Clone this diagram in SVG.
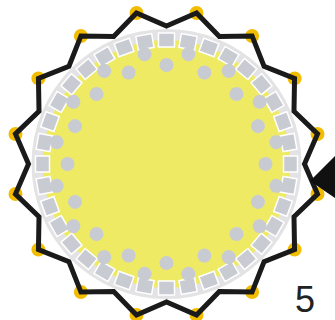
<svg xmlns="http://www.w3.org/2000/svg" xmlns:xlink="http://www.w3.org/1999/xlink" width="335" height="320" viewBox="0 0 335 320">
<style>
.sq{fill:#C9CBD3;stroke:#ffffff;stroke-width:1.5}
.gd{fill:#C9CBD3}
.yd{fill:#F2BD00}
.star{fill:none;stroke:#1a1a1a;stroke-width:5;stroke-linejoin:miter}
</style>
<defs>
<rect id="s" class="sq" x="-8" y="-131" width="16" height="14"/>
<circle id="di" class="gd" cx="0" cy="-99" r="7"/>
<circle id="do" class="gd" cx="0" cy="-112" r="7"/>
</defs>
<rect width="335" height="320" fill="#ffffff"/>
<g id="disc" transform="translate(166.5,164)">
<circle r="135" fill="#E3E3E5"/>
<circle r="124" fill="#EEEA64"/>
<g id="squares">
<use xlink:href="#s" transform="rotate(0)"/><use xlink:href="#s" transform="rotate(10)"/><use xlink:href="#s" transform="rotate(20)"/><use xlink:href="#s" transform="rotate(30)"/><use xlink:href="#s" transform="rotate(40)"/><use xlink:href="#s" transform="rotate(50)"/><use xlink:href="#s" transform="rotate(60)"/><use xlink:href="#s" transform="rotate(70)"/><use xlink:href="#s" transform="rotate(80)"/>
<use xlink:href="#s" transform="rotate(90)"/><use xlink:href="#s" transform="rotate(100)"/><use xlink:href="#s" transform="rotate(110)"/><use xlink:href="#s" transform="rotate(120)"/><use xlink:href="#s" transform="rotate(130)"/><use xlink:href="#s" transform="rotate(140)"/><use xlink:href="#s" transform="rotate(150)"/><use xlink:href="#s" transform="rotate(160)"/><use xlink:href="#s" transform="rotate(170)"/>
<use xlink:href="#s" transform="rotate(180)"/><use xlink:href="#s" transform="rotate(190)"/><use xlink:href="#s" transform="rotate(200)"/><use xlink:href="#s" transform="rotate(210)"/><use xlink:href="#s" transform="rotate(220)"/><use xlink:href="#s" transform="rotate(230)"/><use xlink:href="#s" transform="rotate(240)"/><use xlink:href="#s" transform="rotate(250)"/><use xlink:href="#s" transform="rotate(260)"/>
<use xlink:href="#s" transform="rotate(270)"/><use xlink:href="#s" transform="rotate(280)"/><use xlink:href="#s" transform="rotate(290)"/><use xlink:href="#s" transform="rotate(300)"/><use xlink:href="#s" transform="rotate(310)"/><use xlink:href="#s" transform="rotate(320)"/><use xlink:href="#s" transform="rotate(330)"/><use xlink:href="#s" transform="rotate(340)"/><use xlink:href="#s" transform="rotate(350)"/>
</g>
<g id="dots">
<use xlink:href="#di" transform="rotate(0)"/><use xlink:href="#di" transform="rotate(22.5)"/><use xlink:href="#di" transform="rotate(45)"/><use xlink:href="#di" transform="rotate(67.5)"/><use xlink:href="#di" transform="rotate(90)"/><use xlink:href="#di" transform="rotate(112.5)"/><use xlink:href="#di" transform="rotate(135)"/><use xlink:href="#di" transform="rotate(157.5)"/><use xlink:href="#di" transform="rotate(180)"/><use xlink:href="#di" transform="rotate(202.5)"/><use xlink:href="#di" transform="rotate(225)"/><use xlink:href="#di" transform="rotate(247.5)"/><use xlink:href="#di" transform="rotate(270)"/><use xlink:href="#di" transform="rotate(292.5)"/><use xlink:href="#di" transform="rotate(315)"/><use xlink:href="#di" transform="rotate(337.5)"/>
<use xlink:href="#do" transform="rotate(11.25)"/><use xlink:href="#do" transform="rotate(33.75)"/><use xlink:href="#do" transform="rotate(56.25)"/><use xlink:href="#do" transform="rotate(78.75)"/><use xlink:href="#do" transform="rotate(101.25)"/><use xlink:href="#do" transform="rotate(123.75)"/><use xlink:href="#do" transform="rotate(146.25)"/><use xlink:href="#do" transform="rotate(168.75)"/><use xlink:href="#do" transform="rotate(191.25)"/><use xlink:href="#do" transform="rotate(213.75)"/><use xlink:href="#do" transform="rotate(236.25)"/><use xlink:href="#do" transform="rotate(258.75)"/><use xlink:href="#do" transform="rotate(281.25)"/><use xlink:href="#do" transform="rotate(303.75)"/><use xlink:href="#do" transform="rotate(326.25)"/><use xlink:href="#do" transform="rotate(348.75)"/>
</g>
</g>
<g id="vertices">
<circle class="yd" cx="196.5" cy="13" r="7"/><circle class="yd" cx="252.1" cy="36" r="7"/><circle class="yd" cx="294.6" cy="78.4" r="7"/><circle class="yd" cx="317.5" cy="134" r="7"/><circle class="yd" cx="317.5" cy="194" r="7"/><circle class="yd" cx="294.6" cy="249.6" r="7"/><circle class="yd" cx="252.1" cy="292" r="7"/><circle class="yd" cx="196.5" cy="315" r="7"/><circle class="yd" cx="136.5" cy="315" r="7"/><circle class="yd" cx="80.9" cy="292" r="7"/><circle class="yd" cx="38.4" cy="249.6" r="7"/><circle class="yd" cx="15.5" cy="194" r="7"/><circle class="yd" cx="15.5" cy="134" r="7"/><circle class="yd" cx="38.4" cy="78.4" r="7"/><circle class="yd" cx="80.9" cy="36" r="7"/><circle class="yd" cx="136.5" cy="13" r="7"/>
</g>
<g id="star">
<polygon class="star" points="166.5,26 196.54,12.96 219.31,36.5 252.06,35.95 264.08,66.42 294.55,78.44 294,111.19 317.54,133.96 304.5,164 317.54,194.04 294,216.81 294.55,249.56 264.08,261.58 252.06,292.05 219.31,291.5 196.54,315.04 166.5,302 136.46,315.04 113.69,291.5 80.94,292.05 68.92,261.58 38.45,249.56 39,216.81 15.46,194.04 28.5,164 15.46,133.96 39,111.19 38.45,78.44 68.92,66.42 80.94,35.95 113.69,36.5 136.46,12.96"/>
</g>
<g id="arrow">
<polygon points="310,181 335,156 335,198" fill="#111111"/>
</g>
<text x="295" y="312" font-family="Liberation Sans, Arial, sans-serif" font-size="36" fill="#222222">5</text>
</svg>
